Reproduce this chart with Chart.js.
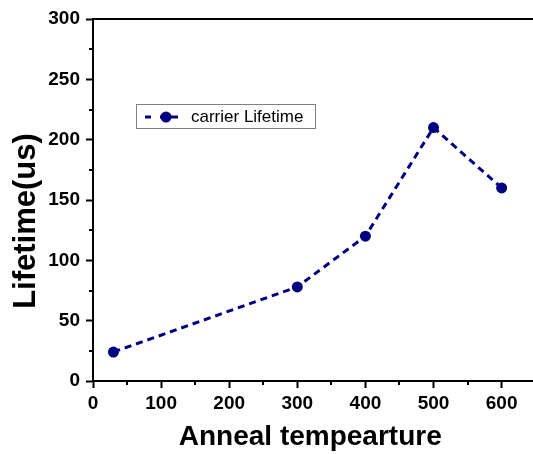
<!DOCTYPE html>
<html>
<head>
<meta charset="utf-8">
<script src="https://cdn.jsdelivr.net/npm/chart.js@4/dist/chart.umd.min.js"></script>
<style>
html,body{margin:0;padding:0;background:#fff;}
#wrap{width:533px;height:454px;position:relative;}
</style>
</head>
<body>
<div id="wrap"><canvas id="c" width="533" height="454"></canvas></div>
<script>
const temperatures = [30, 300, 400, 500, 600];
const lifetimes = [24, 78, 120, 210, 160];
const xTickLabels = [0, 100, 200, 300, 400, 500, 600];
const yTickLabels = [0, 50, 100, 150, 200, 250, 300];
const seriesName = 'carrier Lifetime';
const xTitle = 'Anneal tempearture';
const yTitle = 'Lifetime(us)';

const NAVY = '#000080';
const FONT = '"Liberation Sans", Arial, sans-serif';

const extras = {
  id: 'extras',
  afterDraw(chart) {
    const ctx = chart.ctx;
    const a = chart.chartArea;
    const xs = chart.scales.x, ys = chart.scales.y;
    ctx.save();
    // top border
    ctx.strokeStyle = '#000';
    ctx.lineWidth = 2;
    ctx.beginPath();
    ctx.moveTo(a.left - 1, a.top);
    ctx.lineTo(chart.width, a.top);
    ctx.stroke();
    // bottom axis continues to the edge
    ctx.beginPath();
    ctx.moveTo(a.left, a.bottom);
    ctx.lineTo(chart.width, a.bottom);
    ctx.stroke();
    // minor ticks
    for (let v = 50; v < 650; v += 100) {
      const px = Math.round(xs.getPixelForValue(v));
      if (px > chart.width) continue;
      ctx.beginPath(); ctx.moveTo(px, a.bottom); ctx.lineTo(px, a.bottom + 4); ctx.stroke();
    }
    for (let v = 25; v < 300; v += 50) {
      const py = Math.round(ys.getPixelForValue(v));
      ctx.beginPath(); ctx.moveTo(a.left, py); ctx.lineTo(a.left - 4, py); ctx.stroke();
    }
    // y title
    ctx.save();
    ctx.translate(26, 221);
    ctx.rotate(-Math.PI / 2);
    ctx.fillStyle = '#000';
    ctx.font = 'bold 31px ' + FONT;
    ctx.textAlign = 'center';
    ctx.textBaseline = 'middle';
    ctx.fillText(yTitle, 0, 0);
    ctx.restore();
    // legend
    ctx.strokeStyle = '#808080';
    ctx.lineWidth = 1;
    ctx.fillStyle = '#fff';
    ctx.fillRect(136.5, 104.5, 179, 24);
    ctx.strokeRect(136.5, 104.5, 179, 24);
    ctx.strokeStyle = NAVY;
    ctx.lineWidth = 3;
    ctx.beginPath();
    ctx.moveTo(145, 117); ctx.lineTo(151, 117);
    ctx.moveTo(160, 117); ctx.lineTo(178, 117);
    ctx.stroke();
    ctx.fillStyle = NAVY;
    ctx.beginPath(); ctx.arc(166, 117, 5.5, 0, Math.PI * 2); ctx.fill();
    ctx.fillStyle = '#000';
    ctx.font = '17px ' + FONT;
    ctx.textBaseline = 'middle';
    ctx.fillText(seriesName, 191, 117);
    ctx.restore();
  }
};

new Chart(document.getElementById('c'), {
  type: 'line',
  data: {
    datasets: [{
      label: seriesName,
      data: temperatures.map((t, i) => ({x: t, y: lifetimes[i]})),
      borderColor: NAVY,
      backgroundColor: NAVY,
      borderWidth: 3,
      borderDash: [7, 5],
      pointRadius: 5.5,
      pointHoverRadius: 5.5,
      pointBackgroundColor: NAVY,
      pointBorderWidth: 0,
      tension: 0,
      clip: false
    }]
  },
  options: {
    responsive: false,
    animation: false,
    devicePixelRatio: 1,
    layout: {padding: {top: 19, right: 0, left: 0, bottom: 0}},
    plugins: {legend: {display: false}, tooltip: {enabled: false}},
    scales: {
      x: {
        type: 'linear',
        min: 0, max: 638,
        afterBuildTicks: s => { s.ticks = xTickLabels.map(v => ({value: v})); },
        afterFit: s => { s.height = 73; s.paddingRight = 0; s.paddingLeft = 0; },
        ticks: {
          color: '#000', padding: 4,
          font: {family: FONT, size: 19, weight: 'bold'},
          maxRotation: 0
        },
        grid: {display: true, drawOnChartArea: false, drawTicks: true, tickLength: 7, tickWidth: 2, tickColor: '#000'},
        border: {display: true, color: '#000', width: 2},
        title: {
          display: true, text: xTitle, color: '#000', padding: {top: 5, bottom: 0},
          font: {family: FONT, size: 28, weight: 'bold'}
        }
      },
      y: {
        type: 'linear',
        min: 0, max: 300,
        afterBuildTicks: s => { s.ticks = yTickLabels.map(v => ({value: v})); },
        afterFit: s => { s.width = 93; s.paddingTop = 0; s.paddingBottom = 0; },
        ticks: {
          color: '#000', padding: 6,
          font: {family: FONT, size: 19, weight: 'bold'}
        },
        grid: {display: true, drawOnChartArea: false, drawTicks: true, tickLength: 7, tickWidth: 2, tickColor: '#000'},
        border: {display: true, color: '#000', width: 2},
        title: {display: false}
      }
    }
  },
  plugins: [extras]
});
</script>
</body>
</html>
